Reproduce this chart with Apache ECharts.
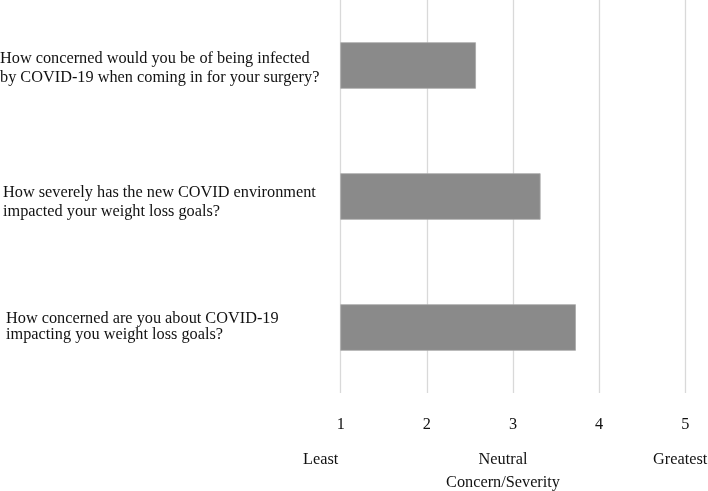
<!DOCTYPE html>
<html>
<head>
<meta charset="utf-8">
<script src="https://cdn.jsdelivr.net/npm/echarts@6/dist/echarts.min.js"></script>
<style>html,body{margin:0;padding:0;background:#fff;}#c{width:708px;height:491px;}</style>
</head>
<body>
<div id="c"></div>
<script>
var categories = [
  "How concerned would you be of being infected\nby COVID-19 when coming in for your surgery?",
  "How severely has the new COVID environment\nimpacted your weight loss goals?",
  "How concerned are you about COVID-19\nimpacting you weight loss goals?"
];
var values = [2.57, 3.32, 3.73];
var tickValues = [1, 2, 3, 4, 5];
var scaleLabels = ["Least", "Neutral\nConcern/Severity", "Greatest"];

var font = '"Liberation Serif", "Times New Roman", serif';
var FS = 16.3;
var chart = echarts.init(document.getElementById('c'), null, {renderer: 'canvas'});
// per label: [left indent, first line height, second line height]
var labelFmt = [[0, 24.5, 14.1], [3, 30.5, 7.5], [6, 15.1, 18.1]];
var rich = {};
labelFmt.forEach(function (f, i) {
  var base = {fontFamily: font, fontSize: FS, color: '#111', align: 'left', padding: [0, 0, 0, f[0]]};
  rich['f' + i] = Object.assign({}, base, {lineHeight: f[1]});
  rich['l' + i] = Object.assign({}, base, {lineHeight: f[2]});
});
chart.setOption({
  animation: false,
  backgroundColor: '#fff',
  grid: {left: 340.7, right: 22.7, top: 0, bottom: 98, containLabel: false, outerBoundsMode: 'none'},
  xAxis: {
    type: 'value', min: tickValues[0], max: tickValues[tickValues.length - 1], interval: 1,
    axisLine: {show: false}, axisTick: {show: false},
    splitLine: {show: true, lineStyle: {color: '#d9d9d9', width: 1.3}},
    axisLabel: {fontFamily: font, fontSize: FS, color: '#111', margin: 24,
      formatter: function (v) { return tickValues.indexOf(v) >= 0 ? String(v) : ''; }}
  },
  yAxis: {
    type: 'category', inverse: true, data: categories,
    axisLine: {show: false}, axisTick: {show: false},
    axisLabel: {
      margin: 340.7, align: 'left', interval: 0,
      formatter: function (v, i) {
        var lines = v.split('\n');
        return '{f' + i + '|' + lines[0] + '}\n{l' + i + '|' + lines[1] + '}';
      },
      rich: rich
    }
  },
  series: [{
    type: 'bar', data: values, barWidth: 46.5,
    itemStyle: {color: '#8a8a8a', borderColor: '#a8a8a8', borderWidth: 0.8}
  }],
  graphic: [
    {type: 'text', x: 303, y: 460, style: {text: scaleLabels[0], font: FS + 'px ' + font, fill: '#111', align: 'left', verticalAlign: 'middle'}},
    {type: 'text', x: 503, y: 460, style: {text: scaleLabels[1], font: FS + 'px ' + font, fill: '#111', align: 'center', verticalAlign: 'top', lineHeight: 23, padding: [-11.5, 0, 0, 0]}},
    {type: 'text', x: 653, y: 460, style: {text: scaleLabels[2], font: FS + 'px ' + font, fill: '#111', align: 'left', verticalAlign: 'middle'}}
  ]
});
</script>
</body>
</html>
